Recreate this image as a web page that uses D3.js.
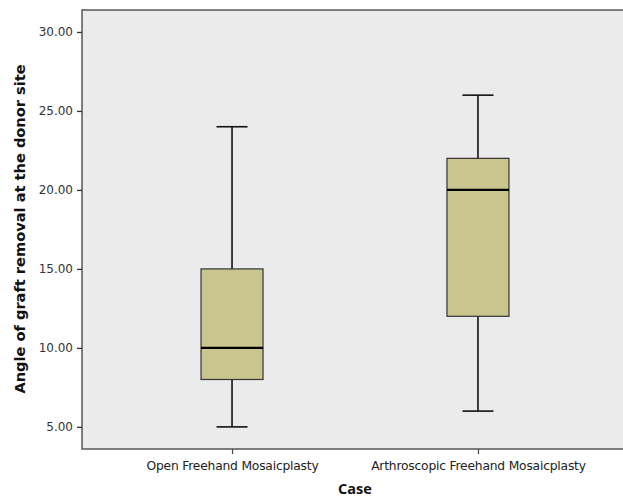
<!DOCTYPE html>
<html><head><meta charset="utf-8">
<script src="https://cdn.jsdelivr.net/npm/d3@7"></script>
<style>body{margin:0;background:#fff;overflow:hidden}</style>
</head><body>
<script>
const categories = ["Open Freehand Mosaicplasty", "Arthroscopic Freehand Mosaicplasty"];
const whiskerLow = [5, 6];
const q1 = [8, 12];
const median = [10, 20];
const q3 = [15, 22];
const whiskerHigh = [24, 26];
const yTicks = [5, 10, 15, 20, 25, 30];

const W = 623, H = 502;
const m = {left: 82, top: 10, bottom: 53};
const iw = 546, ih = H - m.top - m.bottom;

const svg = d3.select("body").append("svg").attr("width", W).attr("height", H);
const g = svg.append("g").attr("transform", `translate(${m.left},${m.top})`);

const y = d3.scaleLinear().domain([3.6, 31.39]).range([ih, 0]);
const x = d3.scalePoint().domain(categories).range([0, iw]).padding(0.61);

g.append("rect").attr("width", iw).attr("height", ih).attr("fill", "#ebebeb");

const boxW = 62, capW = 31;
categories.forEach((c, i) => {
  const cx = x(c);
  const bg = g.append("g");
  bg.append("line").attr("x1", cx).attr("x2", cx).attr("y1", y(whiskerHigh[i])).attr("y2", y(q3[i])).attr("stroke", "#111").attr("stroke-width", 1.6);
  bg.append("line").attr("x1", cx).attr("x2", cx).attr("y1", y(q1[i])).attr("y2", y(whiskerLow[i])).attr("stroke", "#111").attr("stroke-width", 1.6);
  [whiskerHigh[i], whiskerLow[i]].forEach(v => {
    bg.append("line").attr("x1", cx - capW/2).attr("x2", cx + capW/2).attr("y1", y(v)).attr("y2", y(v)).attr("stroke", "#111").attr("stroke-width", 1.6);
  });
  bg.append("rect").attr("x", cx - boxW/2).attr("width", boxW).attr("y", y(q3[i])).attr("height", y(q1[i]) - y(q3[i]))
    .attr("fill", "#c8c68e").attr("stroke", "#333").attr("stroke-width", 1.2);
  bg.append("line").attr("x1", cx - boxW/2).attr("x2", cx + boxW/2).attr("y1", y(median[i])).attr("y2", y(median[i])).attr("stroke", "#000").attr("stroke-width", 2.2);
});

g.append("rect").attr("width", iw).attr("height", ih).attr("fill", "none").attr("stroke", "#555").attr("stroke-width", 1.5);

const ya = g.append("g").call(d3.axisLeft(y).tickValues(yTicks).tickSize(5).tickFormat(d3.format(".2f")));
ya.select(".domain").remove();
ya.selectAll("line").attr("stroke", "#333").attr("stroke-width", 1.3);
ya.selectAll("text").attr("font-family", "DejaVu Sans").attr("font-size", 12).attr("fill", "#333").attr("dx", "-1");

const xa = g.append("g").attr("transform", `translate(0,${ih})`).call(d3.axisBottom(x).tickSize(5));
xa.select(".domain").remove();
xa.selectAll("line").attr("stroke", "#444").attr("stroke-width", 1.2);
xa.selectAll("text").attr("font-family", "DejaVu Sans").attr("font-size", 12.3).attr("fill", "#222").attr("dy", "1.05em").attr("letter-spacing", "-0.2");

svg.append("text").attr("x", 355).attr("y", 494).attr("text-anchor", "middle")
  .attr("font-family", "Open Sans").attr("font-weight", "bold").attr("font-size", 14.5).attr("fill", "#111").text("Case");

svg.append("text").attr("transform", `translate(25,229) rotate(-90)`).attr("text-anchor", "middle")
  .attr("font-family", "DejaVu Sans").attr("font-weight", "bold").attr("font-size", 14.6).attr("fill", "#111")
  .text("Angle of graft removal at the donor site");
</script>
</body></html>
